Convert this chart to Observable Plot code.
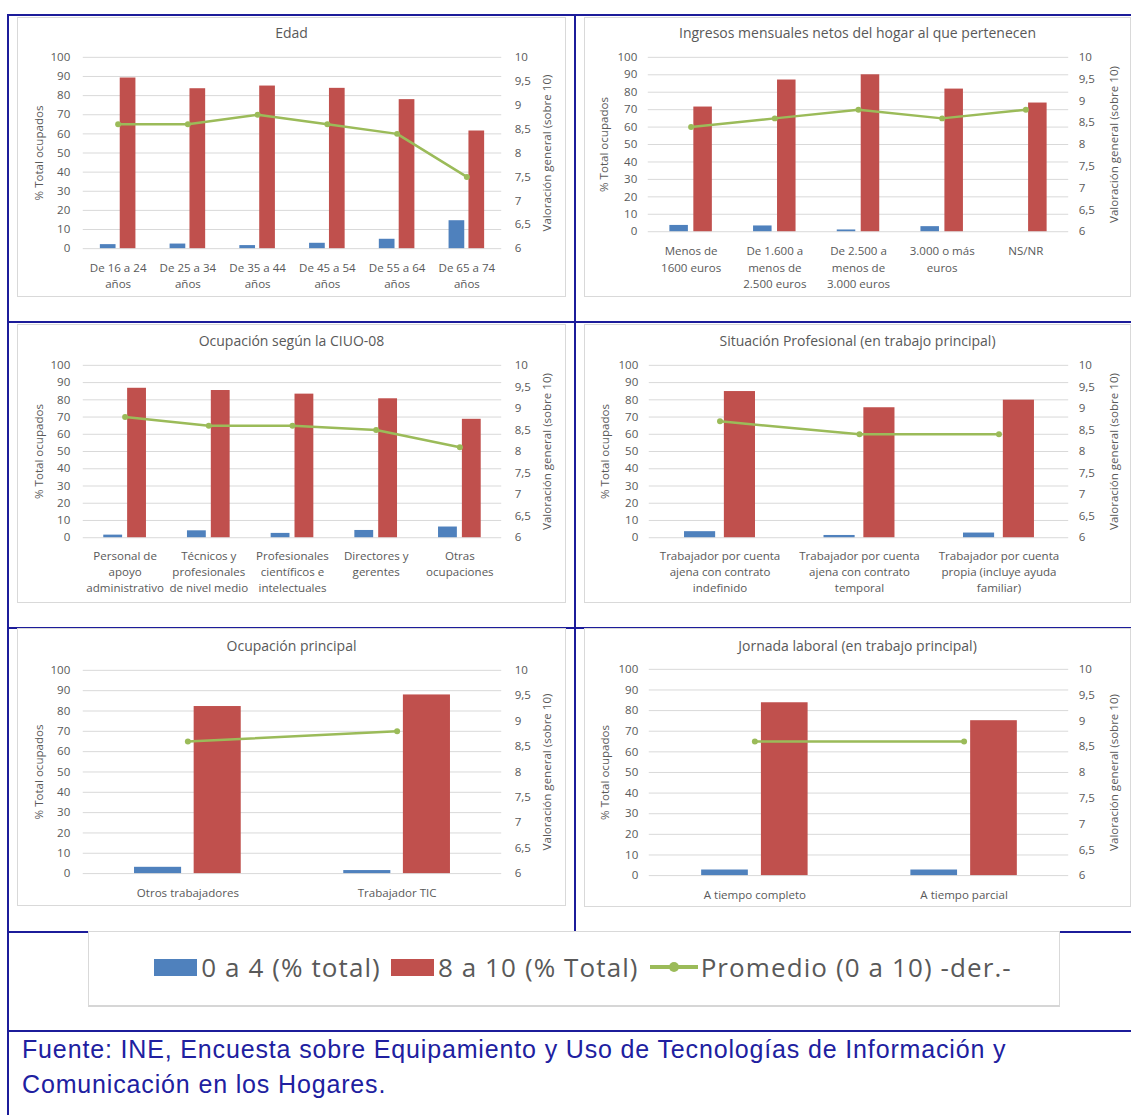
<!DOCTYPE html>
<html>
<head>
<meta charset="utf-8">
<script src="https://cdn.jsdelivr.net/npm/d3@7"></script>
<script src="https://cdn.jsdelivr.net/npm/@observablehq/plot@0.6"></script>
<style>
  body { margin: 0; background: #fff; }
  #page { position: relative; width: 1131px; height: 1115px; overflow: hidden; background: #fff; font-family: "Open Sans", sans-serif; }
  .rule { position: absolute; background: #1c1c9a; }
  .panel { position: absolute; box-sizing: border-box; border: 1px solid #d9d9d9; background: #fff; }
  .panel .title { position: absolute; left: 0; right: 0; text-align: center; font-size: 14px; color: #595959; line-height: 18px; }
  .panel svg { position: absolute; left: -1px; top: -1px; overflow: visible; }
  #legend { position: absolute; left: 88px; top: 931px; width: 972px; height: 76px; box-sizing: border-box; border: 1px solid #d9d9d9; border-bottom: 2px solid #d6d6d6; background: #fff; display: flex; align-items: center; justify-content: center; padding-left: 18px; padding-bottom: 3px; color: #595959; font-size: 26px; letter-spacing: 1.1px; }
  #legend .item { display: flex; align-items: center; margin: 0 5px; }
  #legend .sw { width: 43px; height: 17px; margin-right: 4px; }
  #footer { position: absolute; left: 22px; top: 1032px; font-family: "Liberation Sans", Arial, sans-serif; font-size: 25px; letter-spacing: 0.85px; line-height: 35px; color: #2020a0; }
</style>
</head>
<body>
<div id="page">
  <div class="rule" style="left:7px;top:14px;width:1124px;height:2px"></div>
  <div class="rule" style="left:7px;top:14px;width:2px;height:1101px"></div>
  <div class="rule" style="left:574px;top:14px;width:2px;height:917px"></div>
  <div class="rule" style="left:7px;top:321px;width:1124px;height:2px"></div>
  <div class="rule" style="left:7px;top:627px;width:1124px;height:2px"></div>
  <div class="rule" style="left:7px;top:931px;width:1124px;height:2px"></div>
  <div class="rule" style="left:7px;top:1030px;width:1124px;height:2px"></div>
  <div id="panels"></div>
  <div id="legend"></div>
  <div id="footer">Fuente: INE, Encuesta sobre Equipamiento y Uso de Tecnologías de Información y<br>Comunicación en los Hogares.</div>
</div>
<script>
// ---------------- DATA ----------------
const seriesNames = ["0 a 4 (% total)", "8 a 10 (% Total)", "Promedio (0 a 10) -der.-"];
const seriesColors = ["#4f81bd", "#c0504d", "#9bbb59"];
const leftAxisTitle = "% Total ocupados";
const rightAxisTitle = "Valoración general (sobre 10)";
const leftTicks = [0, 10, 20, 30, 40, 50, 60, 70, 80, 90, 100];
const rightTicks = [6, 6.5, 7, 7.5, 8, 8.5, 9, 9.5, 10];

const edadTitle = "Edad";
const edadCats = ["De 16 a 24\naños", "De 25 a 34\naños", "De 35 a 44\naños", "De 45 a 54\naños", "De 55 a 64\naños", "De 65 a 74\naños"];
const edad04 = [2.1, 2.4, 1.6, 2.8, 4.9, 14.6];
const edad810 = [89.2, 83.6, 85.0, 83.8, 77.9, 61.5];
const edadProm = [8.6, 8.6, 8.8, 8.6, 8.4, 7.5];

const ingTitle = "Ingresos mensuales netos del hogar al que pertenecen";
const ingCats = ["Menos de\n1600 euros", "De 1.600 a\nmenos de\n2.500 euros", "De 2.500 a\nmenos de\n3.000 euros", "3.000 o más\neuros", "NS/NR"];
const ing04 = [3.6, 3.3, 1.0, 2.9, 0];
const ing810 = [71.5, 87.0, 90.0, 81.8, 73.8];
const ingProm = [8.4, 8.6, 8.8, 8.6, 8.8];

const ciuoTitle = "Ocupación según la CIUO-08";
const ciuoCats = ["Personal de\napoyo\nadministrativo", "Técnicos y\nprofesionales\nde nivel medio", "Profesionales\ncientíficos e\nintelectuales", "Directores y\ngerentes", "Otras\nocupaciones"];
const ciuo04 = [1.5, 4.0, 2.5, 4.2, 6.2];
const ciuo810 = [86.7, 85.4, 83.3, 80.6, 68.7];
const ciuoProm = [8.8, 8.6, 8.6, 8.5, 8.1];

const sitTitle = "Situación Profesional (en trabajo principal)";
const sitCats = ["Trabajador por cuenta\najena con contrato\nindefinido", "Trabajador por cuenta\najena con contrato\ntemporal", "Trabajador por cuenta\npropia (incluye ayuda\nfamiliar)"];
const sit04 = [3.5, 1.3, 2.7];
const sit810 = [84.8, 75.4, 79.8];
const sitProm = [8.7, 8.4, 8.4];

const ocuTitle = "Ocupación principal";
const ocuCats = ["Otros trabajadores", "Trabajador TIC"];
const ocu04 = [3.1, 1.5];
const ocu810 = [82.2, 87.9];
const ocuProm = [8.6, 8.8];

const jorTitle = "Jornada laboral (en trabajo principal)";
const jorCats = ["A tiempo completo", "A tiempo parcial"];
const jor04 = [2.7, 2.7];
const jor810 = [83.8, 75.1];
const jorProm = [8.6, 8.6];

// ---------------- LAYOUT (styles only) ----------------
const panelsCfg = [
  {title: edadTitle, cats: edadCats, lo: edad04, hi: edad810, avg: edadProm,
   box: {left: 17, top: 17, w: 549, h: 280}, m: {t: 40, b: 48, l: 66, r: 63}, titleTop: 6, pl: 13, pr: 13, xp: 11, lh: 1.46},
  {title: ingTitle, cats: ingCats, lo: ing04, hi: ing810, avg: ingProm,
   box: {left: 584, top: 17, w: 547, h: 280}, m: {t: 40, b: 65, l: 64, r: 61}, titleTop: 6, pl: 11, pr: 10, xp: 11, lh: 1.46},
  {title: ciuoTitle, cats: ciuoCats, lo: ciuo04, hi: ciuo810, avg: ciuoProm,
   box: {left: 17, top: 324, w: 549, h: 279}, m: {t: 41, b: 65, l: 66, r: 63}, titleTop: 7, pl: 13, pr: 13, xp: 11, lh: 1.38},
  {title: sitTitle, cats: sitCats, lo: sit04, hi: sit810, avg: sitProm,
   box: {left: 584, top: 324, w: 547, h: 279}, m: {t: 41, b: 65, l: 65, r: 61}, titleTop: 7, pl: 11, pr: 10, xp: 11, lh: 1.38},
  {title: ocuTitle, cats: ocuCats, lo: ocu04, hi: ocu810, avg: ocuProm,
   box: {left: 17, top: 628, w: 549, h: 278}, m: {t: 42, b: 32, l: 66, r: 63}, titleTop: 8, pl: 13, pr: 13, xp: 11, lh: 1.46},
  {title: jorTitle, cats: jorCats, lo: jor04, hi: jor810, avg: jorProm,
   box: {left: 584, top: 628, w: 547, h: 279}, m: {t: 41, b: 31, l: 65, r: 61}, titleTop: 8, pl: 11, pr: 10, xp: 11, lh: 1.46}
];

const fmtComma = v => String(v).replace(".", ",");
// map right-axis values (6..10) onto the left scale (0..100)
const rightToLeft = v => (v - 6) * 25;

function drawPanel(cfg) {
  const data = cfg.cats.map((c, i) => ({cat: c, lo: cfg.lo[i], hi: cfg.hi[i], avg: cfg.avg[i]}));
  const band = (cfg.box.w - cfg.m.l - cfg.m.r) / cfg.cats.length;
  const bw = band * 0.225, hg = band * 0.03;
  const fs = 11.6;
  const chart = Plot.plot({
    width: cfg.box.w, height: cfg.box.h,
    marginTop: cfg.m.t, marginBottom: cfg.m.b, marginLeft: cfg.m.l, marginRight: cfg.m.r,
    style: {fontFamily: "Open Sans", fontSize: fs + "px", color: "#595959", background: "transparent", overflow: "visible"},
    x: {domain: cfg.cats, padding: 0, axis: null},
    y: {domain: [0, 100], axis: null},
    marks: [
      Plot.gridY(leftTicks, {stroke: "#d9d9d9", strokeOpacity: 1, strokeWidth: 1}),
      Plot.barY(data, {x: "cat", y: "lo", fill: seriesColors[0], insetLeft: band / 2 - hg - bw, insetRight: band / 2 + hg}),
      Plot.barY(data, {x: "cat", y: "hi", fill: seriesColors[1], insetLeft: band / 2 + hg, insetRight: band / 2 - hg - bw}),
      Plot.lineY(data, {x: "cat", y: d => rightToLeft(d.avg), stroke: seriesColors[2], strokeWidth: 2.5}),
      Plot.dot(data, {x: "cat", y: d => rightToLeft(d.avg), fill: seriesColors[2], r: 3, stroke: "none"}),
      Plot.axisY(leftTicks, {anchor: "left", tickSize: 0, tickPadding: cfg.pl, fontSize: fs,
        label: leftAxisTitle, labelAnchor: "center", labelOffset: 49, labelArrow: "none"}),
      Plot.axisY(rightTicks.map(rightToLeft), {anchor: "right", tickSize: 0, tickPadding: cfg.pr, fontSize: fs,
        tickFormat: d => fmtComma(6 + d / 25),
        label: rightAxisTitle, labelAnchor: "center", labelOffset: 49, labelArrow: "none"}),
      Plot.axisX({anchor: "bottom", tickSize: 0, tickPadding: cfg.xp, fontSize: fs, lineHeight: cfg.lh, label: null})
    ]
  });
  const div = document.createElement("div");
  div.className = "panel";
  Object.assign(div.style, {left: cfg.box.left + "px", top: cfg.box.top + "px", width: cfg.box.w + "px", height: cfg.box.h + "px"});
  div.appendChild(chart);
  const t = document.createElement("div");
  t.className = "title";
  t.style.top = cfg.titleTop + "px";
  t.textContent = cfg.title;
  div.appendChild(t);
  document.getElementById("panels").appendChild(div);
}
panelsCfg.forEach(drawPanel);

// ---------------- LEGEND ----------------
const legend = document.getElementById("legend");
seriesNames.forEach((name, i) => {
  const item = document.createElement("div");
  item.className = "item";
  if (i < 2) {
    const sw = document.createElement("div");
    sw.className = "sw";
    sw.style.background = seriesColors[i];
    item.appendChild(sw);
  } else {
    const ns = "http://www.w3.org/2000/svg";
    const s = document.createElementNS(ns, "svg");
    s.setAttribute("width", 50); s.setAttribute("height", 18);
    s.style.marginRight = "2px";
    const l = document.createElementNS(ns, "line");
    l.setAttribute("x1", 1); l.setAttribute("x2", 49); l.setAttribute("y1", 9); l.setAttribute("y2", 9);
    l.setAttribute("stroke", seriesColors[i]); l.setAttribute("stroke-width", 4);
    const c = document.createElementNS(ns, "circle");
    c.setAttribute("cx", 25); c.setAttribute("cy", 9); c.setAttribute("r", 5); c.setAttribute("fill", seriesColors[i]);
    s.appendChild(l); s.appendChild(c);
    item.appendChild(s);
  }
  const tx = document.createElement("span");
  tx.textContent = name;
  item.appendChild(tx);
  legend.appendChild(item);
});
</script>
</body>
</html>
